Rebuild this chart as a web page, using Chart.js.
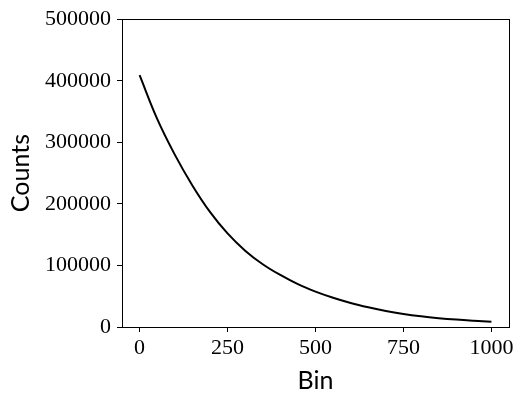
<!DOCTYPE html>
<html>
<head>
<meta charset="utf-8">
<script src="https://cdn.jsdelivr.net/npm/chart.js@4"></script>
<style>
  html, body { margin: 0; padding: 0; background: #fff; }
  #wrap { width: 524px; height: 405px; }
</style>
</head>
<body>
<div id="wrap"><canvas id="myChart"></canvas></div>
<script>
// values
let bins = [0, 50, 100, 150, 200, 250, 300, 350, 400, 450, 500,
            550, 600, 650, 700, 750, 800, 850, 900, 950, 1000];
let counts = [409000, 338000, 280000, 230000, 187000, 152000, 124000, 102000, 84500, 69500, 57500,
              47500, 39000, 32000, 26000, 21200, 17400, 14400, 12000, 10100, 8500];
let xTicks = [0, 250, 500, 750, 1000];
let yTicks = [0, 100000, 200000, 300000, 400000, 500000];

let points = bins.map((b, i) => ({ x: b, y: counts[i] }));

// draw the top and right spines like matplotlib
let boxPlugin = {
    id: 'box',
    afterDraw: (chart) => {
        let a = chart.chartArea;
        let c = chart.ctx;
        c.save();
        c.strokeStyle = '#000';
        c.lineWidth = 1;
        c.strokeRect(Math.round(a.left) + 0.5, Math.round(a.top) + 0.5,
                     Math.round(a.right - a.left), Math.round(a.bottom - a.top));
        c.restore();
    }
};

let serif = "'Liberation Serif', 'DejaVu Serif', serif";
let sans = "Lato, 'Noto Sans', sans-serif";

let ctx = document.getElementById('myChart').getContext('2d');
let myChart = new Chart(ctx, {
    type: 'line',
    data: {
        datasets: [{
            label: 'Counts',
            data: points,
            borderColor: '#000',
            borderWidth: 2,
            pointRadius: 0,
            fill: false,
            tension: 0.4
        }]
    },
    options: {
        responsive: true,
        maintainAspectRatio: false,
        animation: false,
        layout: { padding: { left: 0, right: 15, top: 19, bottom: 0 } },
        plugins: {
            legend: { display: false },
            tooltip: { enabled: false }
        },
        scales: {
            x: {
                type: 'linear',
                min: -50,
                max: 1050,
                afterBuildTicks: (s) => { s.ticks = xTicks.map(v => ({ value: v })); },
                afterFit: (s) => { s.height = 78; },
                grid: { drawOnChartArea: false, drawTicks: true, tickLength: 5, color: '#000' },
                border: { display: true, color: '#000', width: 1 },
                ticks: {
                    color: '#000',
                    padding: 3,
                    maxRotation: 0,
                    font: { family: serif, size: 22 },
                    callback: (v) => String(v)
                },
                title: {
                    display: true,
                    text: 'Bin',
                    color: '#000',
                    font: { family: sans, size: 25 },
                    padding: { top: 2, bottom: 9 }
                }
            },
            y: {
                type: 'linear',
                min: 0,
                max: 500000,
                afterBuildTicks: (s) => { s.ticks = yTicks.map(v => ({ value: v })); },
                afterFit: (s) => { s.width = 122; },
                grid: { drawOnChartArea: false, drawTicks: true, tickLength: 5, color: '#000' },
                border: { display: true, color: '#000', width: 1 },
                ticks: {
                    color: '#000',
                    padding: 6,
                    font: { family: serif, size: 22 },
                    callback: (v) => String(v)
                },
                title: {
                    display: true,
                    text: 'Counts',
                    color: '#000',
                    font: { family: sans, size: 25 },
                    padding: { top: 6, bottom: 0 }
                }
            }
        }
    },
    plugins: [boxPlugin]
});
</script>
</body>
</html>
